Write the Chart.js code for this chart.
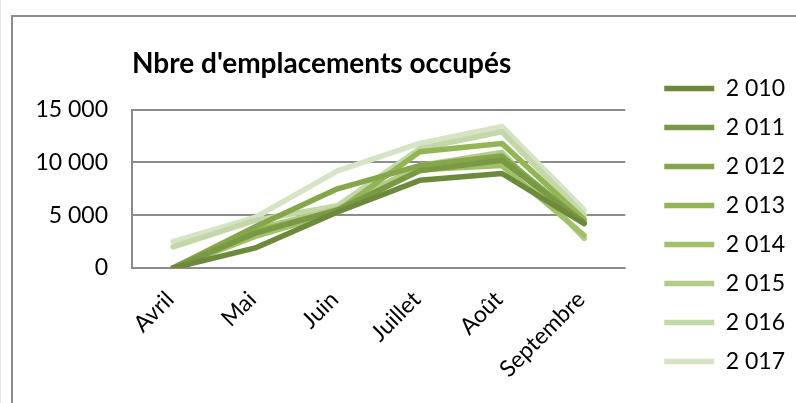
<!DOCTYPE html>
<html>
<head>
<meta charset="utf-8">
<script src="https://cdn.jsdelivr.net/npm/chart.js@4"></script>
<style>
  body { margin: 0; background: #fff; overflow: hidden; }
  #frame { position: absolute; left: 0; top: 0; width: 796px; height: 403px; border-left: 1px solid #e4e4e4; box-sizing: border-box; }
  #box { position: absolute; left: 11px; top: 15px; width: 785px; height: 388px; border-top: 2px solid #8c8c8c; border-left: 2px solid #8c8c8c; box-sizing: border-box; }
  #chart { position: absolute; left: 0; top: 0; }
</style>
</head>
<body>
<div id="frame"></div>
<div id="box"><canvas id="chart" width="783" height="386"></canvas></div>
<script>
// months and one series per year
const months = ["Avril", "Mai", "Juin", "Juillet", "Août", "Septembre"];
const years = ["2 010", "2 011", "2 012", "2 013", "2 014", "2 015", "2 016", "2 017"];

const y2010 = [0, 1900, 5300, 8300, 8950, 4200];
const y2011 = [0, 3300, 5500, 9200, 10200, 4300];
const y2012 = [0, 3900, 7500, 9700, 10600, 4250];
const y2013 = [0, 3500, 5400, 11000, 11800, 4600];
const y2014 = [0, 3000, 5300, 9300, 9700, 3100];
const y2015 = [0, 3700, 5600, 9700, 10950, 2800];
const y2016 = [2000, 4500, 5900, 11300, 12900, 5000];
const y2017 = [2500, 4800, 9200, 11800, 13400, 5500];

const yTicks = [0, 5000, 10000, 15000];
const colors = ["#6d8a3c", "#7a9945", "#86a64c", "#93b554", "#a2c068", "#b3cc8c", "#c4d7a9", "#d6e3c5"];

const series = [y2010, y2011, y2012, y2013, y2014, y2015, y2016, y2017];
const font = "Lato, 'Open Sans', sans-serif";

function fmt(v) {
  return String(v).replace(/\B(?=(\d{3})+(?!\d))/g, " ");
}

const ctx = document.getElementById("chart").getContext("2d");
new Chart(ctx, {
  type: "line",
  data: {
    labels: months,
    datasets: series.map((d, i) => ({
      label: years[i],
      data: d,
      borderColor: colors[i],
      backgroundColor: colors[i],
      borderWidth: 5.5,
      borderCapStyle: "round",
      borderJoinStyle: "round",
      pointRadius: 0,
      tension: 0,
    })),
  },
  options: {
    responsive: false,
    animation: false,
    layout: { padding: { left: 0, right: 1, top: 30, bottom: 0 } },
    plugins: {
      title: {
        display: true,
        text: "Nbre d'emplacements occupés",
        align: "start",
        fullSize: false,
        color: "#000",
        font: { family: font, size: 28, weight: "bold" },
        padding: { top: 0, bottom: 29 },
      },
      legend: {
        position: "right",
        labels: {
          usePointStyle: true,
          pointStyle: "line",
          pointStyleWidth: 50,
          color: "#000",
          font: { family: font, size: 23 },
          padding: 16,
        },
      },
      tooltip: { enabled: false },
    },
    scales: {
      x: {
        offset: true,
        afterFit: (a) => { a.height = 135; },
        grid: { display: false, drawTicks: false },
        border: { color: "#8c8c8c", width: 1 },
        ticks: {
          color: "#000",
          font: { family: font, size: 23 },
          maxRotation: 45,
          minRotation: 45,
          padding: 18,
          labelOffset: -3,
        },
      },
      y: {
        min: 0,
        max: 15000,
        afterFit: (a) => { a.width = 119; },
        afterBuildTicks: (axis) => { axis.ticks = yTicks.map((v) => ({ value: v })); },
        grid: { color: "#8c8c8c", lineWidth: 2, drawTicks: false },
        border: { color: "#8c8c8c", width: 2 },
        ticks: {
          color: "#000",
          font: { family: font, size: 23 },
          padding: 24,
          callback: (v) => fmt(v),
        },
      },
      // hidden spacer between plot and legend
      gap: {
        position: "right",
        display: false,
        afterFit: (a) => { a.width = 23; },
      },
    },
  },
});
</script>
</body>
</html>
